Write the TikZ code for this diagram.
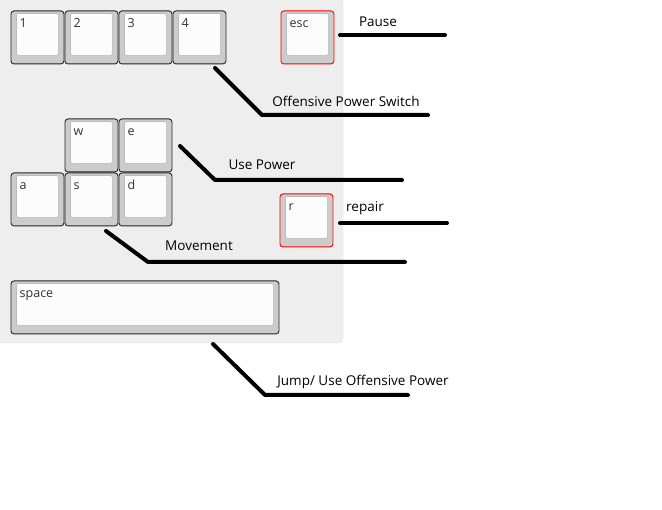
\documentclass[tikz,border=0pt]{standalone}
\usepackage{fontspec}
\setmainfont{Open Sans}
\usepackage{xcolor}
\definecolor{panelgray}{HTML}{EEEEEE}
\definecolor{capgray}{HTML}{CCCCCC}
\definecolor{capface}{HTML}{FCFCFC}
\definecolor{caprim}{HTML}{BBBBBB}

\tikzset{
  keyouter/.style={draw, line width=0.9pt, fill=capgray, rounded corners=3pt,
    minimum height=53pt, inner sep=0pt, anchor=north west},
  keyinner/.style={fill=capface, draw=caprim, line width=0.6pt, rounded corners=2pt},
  keylabel/.style={font=\fontsize{12.5}{14}\selectfont, text=black!80, inner sep=0pt, anchor=base west},
  callout/.style={line width=4pt, line cap=round, line join=round},
  calltext/.style={font=\fontsize{13.5}{16}\selectfont, inner sep=0pt}
}

% [border]{name}{top left}{width}{label}
\newcommand{\keycap}[5][black!85]{%
  \node[keyouter, draw=#1, minimum width=#4] (#2) at (#3) {};
  \draw[keyinner] ([xshift=6pt,yshift=-3pt]#2.north west) rectangle ([xshift=-6pt,yshift=9pt]#2.south east);
  \node[keylabel] (#2-txt) at ([xshift=9pt,yshift=-17pt]#2.north west) {#5};
}

\begin{document}
\begin{tikzpicture}[x=1pt, y=-1pt]
  \useasboundingbox (0,0) rectangle (662,510);
  \fill[white] (0,0) rectangle (662,510);
  \draw[fill=panelgray, draw=black!12, rounded corners=5pt] (-6,-3) rectangle (343,343);

  \keycap{k1}{10.5,10.5}{53pt}{1}
  \keycap{k2}{64.5,10.5}{53pt}{2}
  \keycap{k3}{118.5,10.5}{53pt}{3}
  \keycap{k4}{172.5,10.5}{53pt}{4}
  \keycap[red]{kesc}{280.5,10.5}{53pt}{esc}
  \keycap{kw}{64.5,118.5}{53pt}{w}
  \keycap{ke}{118.5,118.5}{53pt}{e}
  \keycap{ka}{10.5,172.5}{53pt}{a}
  \keycap{ks}{64.5,172.5}{53pt}{s}
  \keycap{kd}{118.5,172.5}{53pt}{d}
  \keycap[red]{kr}{279.5,193.5}{53pt}{r}
  \keycap{kspace}{10.5,280.5}{268pt}{space}

  \coordinate (pauseA) at (340,35);   \coordinate (pauseB) at (445,35);
  \coordinate (offA) at (215,68);     \coordinate (offK) at (262,115);   \coordinate (offB) at (428,115);
  \coordinate (useA) at (180,146);    \coordinate (useK) at (215,180);   \coordinate (useB) at (402,180);
  \coordinate (repA) at (340,223);    \coordinate (repB) at (447,223);
  \coordinate (movA) at (106,231);    \coordinate (movK) at (148,262);   \coordinate (movB) at (405,262);
  \coordinate (jumpA) at (213,344);   \coordinate (jumpK) at (265,395);  \coordinate (jumpB) at (408,395);

  \draw[callout] (pauseA) -- (pauseB);
  \draw[callout] (offA) -- (offK) -- (offB);
  \draw[callout] (useA) -- (useK) -- (useB);
  \draw[callout] (repA) -- (repB);
  \draw[callout] (movA) -- (movK) -- (movB);
  \draw[callout] (jumpA) -- (jumpK) -- (jumpB);

  \node[calltext] (pause) at (378,22) {Pause};
  \node[calltext] (offensive) at (346,101) {Offensive Power Switch};
  \node[calltext] (usepower) at (262,165) {Use Power};
  \node[calltext] (repair) at (365,208) {repair};
  \node[calltext] (movement) at (199,246) {Movement};
  \node[calltext] (jump) at (363,382) {Jump/ Use Offensive Power};
\end{tikzpicture}
\end{document}
